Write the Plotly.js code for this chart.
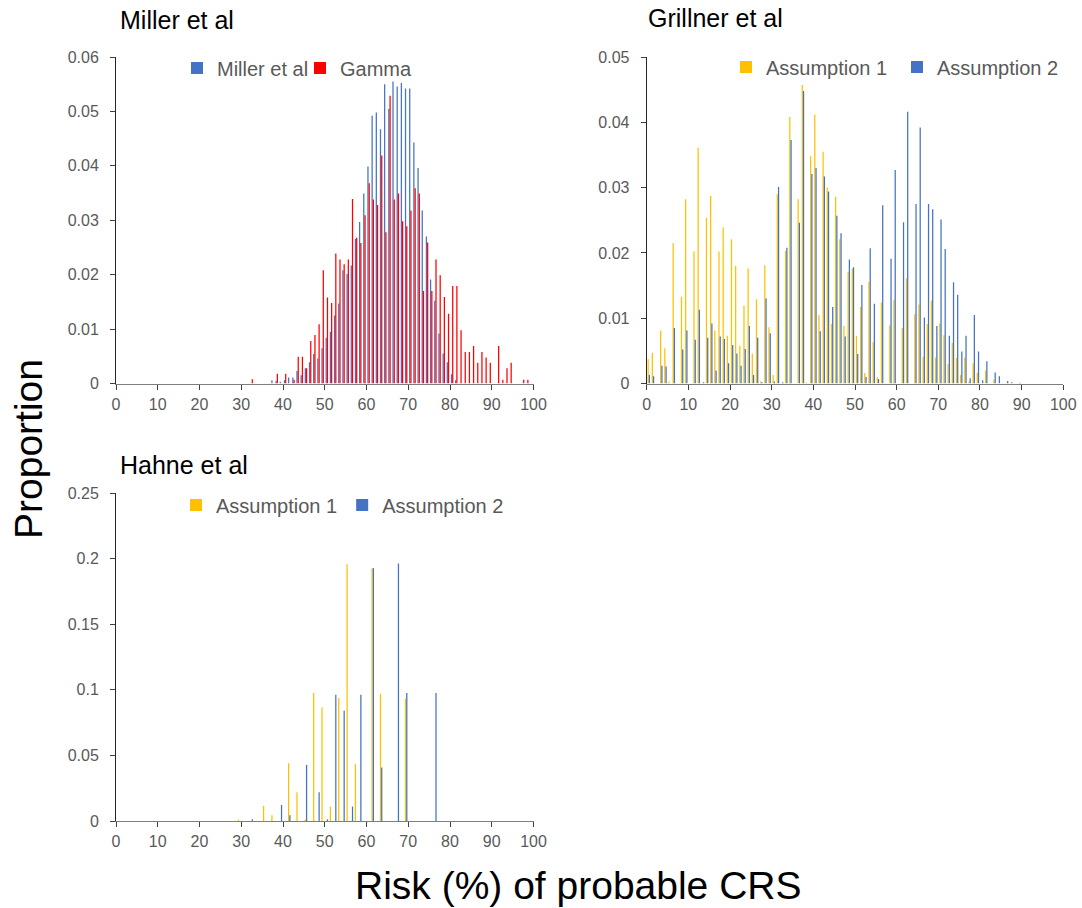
<!DOCTYPE html>
<html>
<head>
<meta charset="utf-8">
<script src="https://cdn.plot.ly/plotly-3.0.1.min.js"></script>
<style>html,body{margin:0;padding:0;background:#fff;}#chart{width:1082px;height:908px;}</style>
</head>
<body>
<div id="chart"></div>
<script>
// Bins are 1%-wide risk classes 0-1, 1-2, ..., 99-100 (first bin centre 0.5, step 1)
const binStart = 0.5;
const binStep = 1;

// Panel 1: Miller et al vs Gamma
const millerEtAl = [
  0,0,0,0,0,0,0,0,0,0,
  0,0,0,0,0,0,0,0,0,0,
  0,0,0,0,0,0,0,0,0,0,
  0,0,0,0,0,0,0,0.0006,0.0005,0.0003,
  0.0006,0.0011,0.0011,0.0023,0.0015,0.0028,0.0039,0.0054,0.0046,0.0065,
  0.0084,0.0095,0.0125,0.0147,0.0208,0.0201,0.0217,0.0266,0.0297,0.0349,
  0.0399,0.0492,0.0498,0.0467,0.0550,0.0505,0.0555,0.0546,0.0552,0.0542,
  0.0542,0.0443,0.0396,0.0318,0.0270,0.0191,0.0152,0.0092,0.0055,0.0039,
  0.0017,0.0006,0.0001,0,0,0,0,0,0,0,
  0,0,0,0,0,0,0,0,0,0
];
const gamma = [
  0,0,0,0,0,0,0,0,0,0,
  0,0,0,0,0,0,0,0,0,0,
  0,0,0,0,0,0,0,0,0,0,
  0,0,0.0008,0,0,0,0,0,0.0018,0,
  0.0018,0,0.0007,0.0049,0.0049,0.0028,0.0078,0.0089,0.0109,0.0208,
  0.0158,0.0148,0.0239,0.0228,0.0219,0.0228,0.0339,0.0268,0.0258,0.0309,
  0.0368,0.0338,0.0328,0.0419,0.0278,0.0529,0.0338,0.0349,0.0298,0.0289,
  0.0318,0.0359,0.0349,0.0170,0.0259,0.0170,0.0228,0.0199,0.0159,0.0128,
  0.0179,0.0179,0.0098,0.0058,0.0058,0.0069,0.0038,0.0058,0.0048,0.0038,
  0,0.0069,0.0007,0.0028,0.0038,0,0,0.0007,0.0007,0
];

// Panel 2: Grillner et al
const grillnerA1 = [
  0.0037,0.0047,0,0.0081,0.0054,0.0003,0.0215,0,0.0133,0.0282,
  0,0.0202,0.0361,0,0.0254,0.0287,0.0081,0.0202,0.0239,0.0073,
  0.0221,0.0180,0.0058,0.0119,0.0176,0.0046,0.0129,0.0003,0.0181,0.0086,
  0.0013,0.0290,0,0.0203,0.0408,0,0.0282,0.0457,0.0002,0.0348,
  0.0412,0.0105,0.0355,0.0300,0.0091,0.0286,0.0221,0.0088,0.0171,0.0176,
  0.0073,0.0117,0.0016,0.0156,0.0063,0.0010,0.0124,0,0.0089,0.0128,
  0,0.0085,0.0161,0,0.0106,0.0121,0.0041,0.0091,0.0127,0.0040,
  0.0092,0.0074,0.0030,0.0062,0.0039,0.0013,0.0040,0.0003,0.0031,0.0016,
  0,0.0020,0,0.0006,0,0,0,0,0,0,
  0,0,0,0,0,0,0,0,0,0
];
const grillnerA2 = [
  0.0013,0.0011,0,0.0027,0.0026,0,0.0085,0,0.0052,0.0081,
  0,0.0067,0.0113,0.0002,0.0070,0.0092,0.0020,0.0072,0.0068,0.0031,
  0.0059,0.0046,0.0027,0.0053,0.0088,0.0013,0.0070,0.0002,0.0130,0.0077,
  0.0003,0.0301,0.0002,0.0208,0.0373,0,0.0246,0.0448,0,0.0321,
  0.0330,0.0080,0.0317,0.0294,0.0117,0.0257,0.0230,0.0072,0.0190,0.0178,
  0.0045,0.0151,0.0010,0.0207,0.0122,0.0007,0.0273,0,0.0191,0.0327,
  0,0.0247,0.0416,0,0.0275,0.0392,0.0101,0.0275,0.0267,0.0088,
  0.0251,0.0206,0.0073,0.0155,0.0136,0.0049,0.0073,0.0008,0.0105,0.0049,
  0.0005,0.0034,0,0.0017,0.0011,0,0.0004,0.0002,0,0.0001,
  0,0,0,0,0,0,0,0,0,0
];

// Panel 3: Hahne et al
const hahneA1 = [
  0,0,0,0,0,0,0,0,0,0,
  0,0,0,0,0,0,0,0,0,0,
  0,0,0,0,0,0,0,0,0,0.0010,
  0,0,0,0,0,0.0115,0,0.0043,0,0,
  0,0.0441,0,0.0219,0,0.0010,0,0.0976,0,0.0866,
  0,0.0110,0,0.0938,0,0.1957,0,0.0433,0,0,
  0,0.1927,0,0.0971,0,0,0,0,0,0.0933,
  0,0,0,0,0,0,0,0,0,0,
  0,0,0,0,0,0,0,0,0,0,
  0,0,0,0,0,0,0,0,0,0
];
const hahneA2 = [
  0,0,0,0,0,0,0,0,0,0,
  0,0,0,0,0,0,0,0,0,0,
  0,0,0,0,0,0,0,0,0,0,
  0,0,0.0013,0,0,0,0,0,0,0.0122,
  0,0.0043,0,0,0,0.0428,0,0,0.0219,0,
  0.0013,0,0.0963,0,0.0841,0,0.0110,0,0.0963,0,
  0,0.1927,0,0.0408,0,0,0,0.1962,0,0.0976,
  0,0,0,0,0,0,0.0976,0,0,0,
  0,0,0,0,0,0,0,0,0,0,
  0,0,0,0,0,0,0,0,0,0
];

const panelTitles = ["Miller et al", "Grillner et al", "Hahne et al"];
const xTitle = "Risk (%) of probable CRS";
const yTitle = "Proportion";

const BLUE = "#4472C4", RED = "#FF0000", GOLD = "#FFC000";
const FONT = "Arial, 'Liberation Sans', sans-serif";
const GREY = "#595959";

function bar(name, y, color, xa, ya, legend) {
  return {type: "bar", name: name, y: y, x0: binStart, dx: binStep,
    xaxis: xa, yaxis: ya, legend: legend,
    marker: {color: color, line: {width: 0}}, hoverinfo: "x+y"};
}

const data = [
  bar("Miller et al", millerEtAl, BLUE, "x", "y", "legend"),
  bar("Gamma", gamma, RED, "x", "y", "legend"),
  bar("Assumption 1", grillnerA1, GOLD, "x2", "y2", "legend2"),
  bar("Assumption 2", grillnerA2, BLUE, "x2", "y2", "legend2"),
  bar("Assumption 1", hahneA1, GOLD, "x3", "y3", "legend3"),
  bar("Assumption 2", hahneA2, BLUE, "x3", "y3", "legend3")
];

const W = 1082, H = 908;
const px = v => v / W;
const py = v => 1 - v / H;

function xax(d0, d1, anchor) {
  return {domain: [px(d0), px(d1)], range: [0, 100], dtick: 10, tick0: 0, anchor: anchor,
    showgrid: false, zeroline: false, showline: true, linecolor: "#7f7f7f", linewidth: 1,
    ticks: "outside", ticklen: 5, tickcolor: "#404040", tickwidth: 1,
    tickfont: {family: FONT, size: 16, color: GREY}, ticklabelstandoff: 1, fixedrange: true};
}
function yax(top, bottom, max, dtick, anchor) {
  return {domain: [py(bottom), py(top)], range: [0, max], dtick: dtick, tick0: 0, anchor: anchor,
    showgrid: false, zeroline: false, showline: true, linecolor: "#262626", linewidth: 1,
    ticks: "outside", ticklen: 5, tickcolor: "#404040", tickwidth: 1,
    tickfont: {family: FONT, size: 16, color: GREY}, ticklabelstandoff: 8, fixedrange: true};
}
function leg(xpx, ypx, ew) {
  const l = {orientation: "h", x: px(xpx), y: py(ypx), xanchor: "left", yanchor: "middle",
    bgcolor: "rgba(0,0,0,0)", borderwidth: 0,
    font: {family: FONT, size: 20, color: GREY}, traceorder: "normal", itemclick: false};
  if (ew) { l.entrywidth = ew; l.entrywidthmode = "pixels"; }
  return l;
}
function ann(text, xpx, ypx, size, xanchor, angle) {
  return {text: text, x: px(xpx), y: py(ypx), xref: "paper", yref: "paper", showarrow: false,
    xanchor: xanchor, yanchor: "middle", textangle: angle || 0,
    font: {family: FONT, size: size, color: "#000"}};
}

const layout = {
  width: W, height: H, margin: {l: 0, r: 0, t: 0, b: 0},
  paper_bgcolor: "#fff", plot_bgcolor: "#fff",
  barmode: "group", bargap: 0.4, bargroupgap: 0,
  font: {family: FONT},
  xaxis: xax(116, 533.5, "y"),
  yaxis: yax(57, 383.5, 0.06, 0.01, "x"),
  xaxis2: xax(646.7, 1063.3, "y2"),
  yaxis2: yax(57, 383.5, 0.05, 0.01, "x2"),
  xaxis3: xax(116, 533.5, "y3"),
  yaxis3: yax(493, 821, 0.25, 0.05, "x3"),
  legend: leg(177, 68, 78),
  legend2: leg(726, 67, 126),
  legend3: leg(176, 505, null),
  annotations: [
    ann(panelTitles[0], 118, 20, 25, "left"),
    ann(panelTitles[1], 646, 18, 25, "left"),
    ann(panelTitles[2], 118, 465, 25, "left"),
    ann(yTitle, 28, 449, 39, "center", -90),
    ann(xTitle, 578, 885, 39, "center")
  ]
};

Plotly.newPlot("chart", data, layout, {staticPlot: true, displayModeBar: false});
</script>
</body>
</html>
